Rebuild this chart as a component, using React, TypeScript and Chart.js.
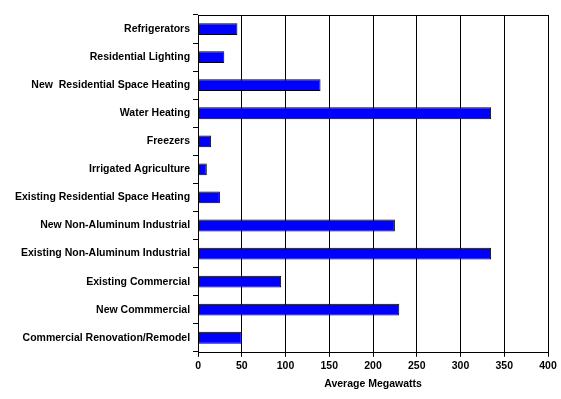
import React, { useEffect, useRef } from "react";
import { Chart, registerables } from "chart.js";

Chart.register(...registerables);

const categories = [
  "Refrigerators",
  "Residential Lighting",
  "New  Residential Space Heating",
  "Water Heating",
  "Freezers",
  "Irrigated Agriculture",
  "Existing Residential Space Heating",
  "New Non-Aluminum Industrial",
  "Existing Non-Aluminum Industrial",
  "Existing Commercial",
  "New Commmercial",
  "Commercial Renovation/Remodel",
];
const values = [45, 30, 140, 335, 15, 10, 25, 225, 335, 95, 230, 50];
const xTitle = "Average Megawatts";
const xMin = 0;
const xMax = 400;
const xStep = 50;

const borderPlugin = {
  id: "plotBorder",
  afterDraw(chart: any) {
    const { ctx, chartArea } = chart;
    ctx.save();
    ctx.strokeStyle = "#000";
    ctx.lineWidth = 1;
    ctx.strokeRect(
      Math.round(chartArea.left) + 0.5,
      Math.round(chartArea.top) + 0.5,
      Math.round(chartArea.right - chartArea.left),
      Math.round(chartArea.bottom - chartArea.top)
    );
    ctx.restore();
  },
};

export default function App() {
  const ref = useRef<HTMLCanvasElement>(null);
  useEffect(() => {
    if (!ref.current) return;
    const font = { family: "Liberation Sans, Arial, sans-serif", size: 10.5, weight: "bold" as const };
    const chart = new Chart(ref.current, {
      type: "bar",
      data: {
        labels: categories,
        datasets: [
          {
            data: values,
            backgroundColor: "#0000FF",
            borderColor: "#000000",
            borderWidth: 1,
            categoryPercentage: 0.42,
            barPercentage: 1,
          },
        ],
      },
      options: {
        indexAxis: "y",
        animation: false,
        responsive: false,
        layout: { padding: { top: 15, right: 13, left: 12, bottom: 9 } },
        plugins: { legend: { display: false }, tooltip: { enabled: false } },
        scales: {
          x: {
            min: xMin,
            max: xMax,
            ticks: { stepSize: xStep, color: "#000", font, padding: 3 },
            grid: { color: "#000", lineWidth: 1, tickLength: 5, drawTicks: true },
            border: { display: false },
            title: { display: true, text: xTitle, color: "#000", font, padding: { top: 2, bottom: 0 } },
          },
          y: {
            ticks: { color: "#000", font, padding: 3, autoSkip: false },
            grid: { drawOnChartArea: false, color: "#000", tickLength: 5, offset: true },
            border: { display: false },
          },
        },
      },
      plugins: [borderPlugin],
    });
    return () => chart.destroy();
  }, []);
  return (
    <div style={{ position: "absolute", left: 0, top: 0, width: 561, height: 399, background: "#fff" }}>
      <canvas ref={ref} width={561} height={399} />
    </div>
  );
}
